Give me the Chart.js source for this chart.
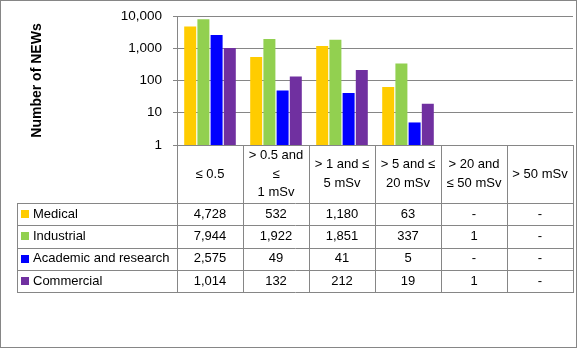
<!DOCTYPE html>
<html>
<head>
<meta charset="utf-8">
<script src="https://cdn.jsdelivr.net/npm/chart.js@4/dist/chart.umd.min.js"></script>
<style>
    body { margin: 0; background: #fff; }
    canvas { display: block; }
</style>
</head>
<body>
<canvas id="grafico" width="579" height="352"></canvas>
<script>
// Datos
const categorias = [["≤ 0.5"], ["> 0.5 and", "≤", "1 mSv"], ["> 1 and ≤", "5 mSv"], ["> 5 and ≤", "20 mSv"], ["> 20 and", "≤ 50 mSv"], ["> 50 mSv"]]
const medical = [4728, 532, 1180, 63, null, null]
const industrial = [7944, 1922, 1851, 337, 1, null]
const academic = [2575, 49, 41, 5, null, null]
const commercial = [1014, 132, 212, 19, 1, null]
const ticksY = [1, 10, 100, 1000, 10000]

const fuente = "'Liberation Sans', Arial, sans-serif"
const gris = '#868686'

// Tabla de datos debajo del grafico
const tablaPlugin = {
    id: 'tabla',
    afterDraw(chart) {
        const ctx = chart.ctx
        const area = chart.chartArea
        const x = chart.scales.x
        const n = categorias.length
        const ancho = area.width / n
        const top = area.bottom
        const cabecera = 58
        const filaH = 22.3
        const filas = chart.data.datasets
        const bottom = top + cabecera + filaH * filas.length
        const izq = 17

        ctx.save()
        ctx.strokeStyle = gris
        ctx.lineWidth = 1

        // lineas verticales
        ctx.beginPath()
        for (let i = 0; i <= n; i++) {
            const px = Math.round(area.left + ancho * i) + 0.5
            ctx.moveTo(px, top)
            ctx.lineTo(px, bottom)
        }
        ctx.moveTo(izq + 0.5, top + cabecera)
        ctx.lineTo(izq + 0.5, bottom)
        // lineas horizontales
        for (let r = 0; r <= filas.length; r++) {
            const py = Math.round(top + cabecera + filaH * r) + 0.5
            ctx.moveTo(izq, py)
            ctx.lineTo(area.right + 1, py)
        }
        ctx.stroke()

        ctx.fillStyle = '#000'
        ctx.textAlign = 'center'
        ctx.textBaseline = 'middle'
        ctx.font = '13px ' + fuente

        // cabecera
        categorias.forEach((lineas, i) => {
            const cx = x.getPixelForValue(i)
            const lh = 18.5
            const y0 = top + cabecera / 2 - (lineas.length - 1) * lh / 2
            lineas.forEach((t, k) => ctx.fillText(t, cx, y0 + k * lh))
        })

        // filas
        filas.forEach((ds, r) => {
            const cy = top + cabecera + filaH * r + filaH / 2
            ctx.fillStyle = ds.backgroundColor
            ctx.fillRect(izq + 4, Math.round(cy - 4), 8, 8)
            ctx.fillStyle = '#000'
            ctx.textAlign = 'left'
            ctx.fillText(ds.label, izq + 16, cy)
            ctx.textAlign = 'center'
            ds.data.forEach((v, i) => {
                const txt = v == null ? '-' : v.toLocaleString('en-US')
                ctx.fillText(txt, x.getPixelForValue(i), cy)
            })
        })

        // borde exterior
        ctx.strokeRect(0.5, 0.5, 576, 347)
        ctx.restore()
    }
}

const data = {
    labels: categorias.map(c => c.join(' ')),
    datasets: [
        { label: 'Medical', data: medical, backgroundColor: '#FFCC00' },
        { label: 'Industrial', data: industrial, backgroundColor: '#92D050' },
        { label: 'Academic and research', data: academic, backgroundColor: '#0000FF' },
        { label: 'Commercial', data: commercial, backgroundColor: '#7030A0' },
    ],
}

const config = {
    type: 'bar',
    data: data,
    options: {
        responsive: false,
        animation: false,
        layout: { padding: { left: 0, top: 16, right: 6, bottom: 207 } },
        datasets: { bar: { categoryPercentage: 0.8, barPercentage: 0.909 } },
        plugins: { legend: { display: false }, tooltip: { enabled: false } },
        scales: {
            x: { display: false },
            y: {
                type: 'logarithmic',
                min: 1,
                max: 10000,
                afterBuildTicks: s => { s.ticks = ticksY.map(v => ({ value: v })) },
                afterFit: s => {
                    s.width = 177
                    s.paddingTop = 0
                    s.paddingBottom = 0
                },
                grid: { color: gris, tickLength: 4, tickColor: gris },
                border: { display: true, color: gris },
                ticks: {
                    color: '#000',
                    padding: 11,
                    font: { family: fuente, size: 13.5 },
                    callback: v => v.toLocaleString('en-US')
                },
                title: {
                    display: true,
                    text: 'Number of NEWs',
                    color: '#000',
                    font: { family: fuente, size: 14, weight: 'bold' },
                    padding: { top: 29 }
                }
            }
        }
    },
    plugins: [tablaPlugin]
}

new Chart(document.getElementById('grafico'), config)
</script>
</body>
</html>
